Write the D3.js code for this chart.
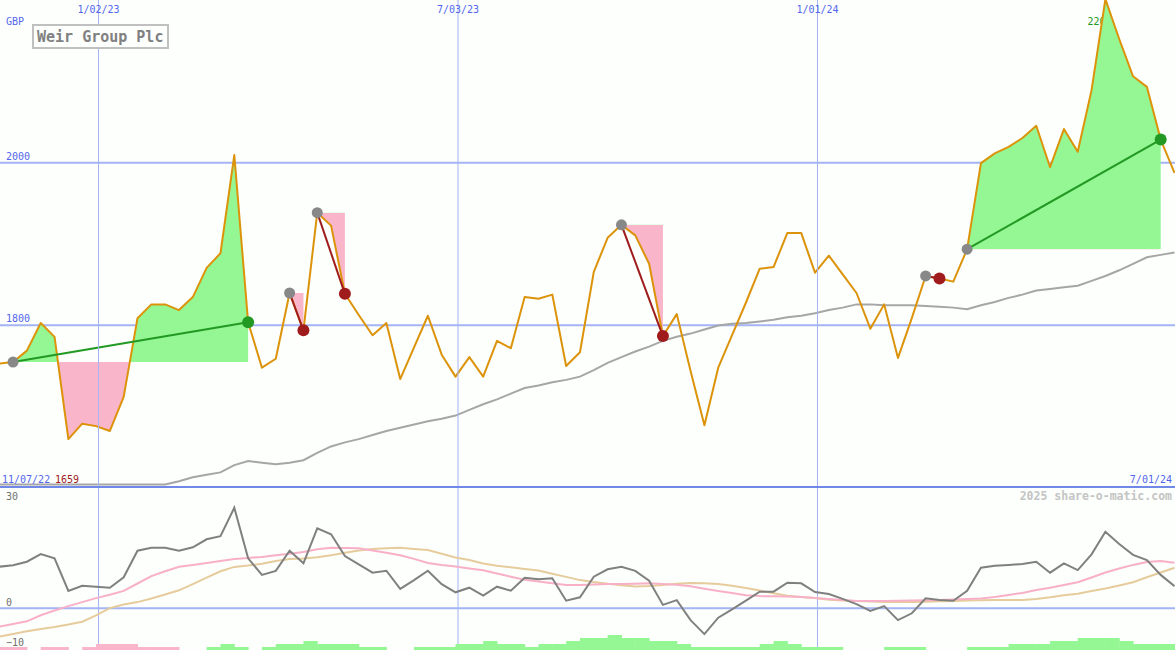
<!DOCTYPE html>
<html><head><meta charset="utf-8">
<script src="https://cdn.jsdelivr.net/npm/d3@7"></script>
<style>body{margin:0;background:#fcfffc}svg{display:block}</style>
</head><body><svg id="c" width="1175" height="650"></svg>
<script>
// ---- data (weekly, starting Sunday 6 Nov 2022) ----
const startDay = "2022-11-06";
const title = "Weir Group Plc";
const currency = "GBP";
const tickDates = ["2023-01-02", "2023-07-03", "2024-01-01"];
const tickLabels = ["1/02/23", "7/03/23", "1/01/24"];
const priceTicks = [1800, 2000];
const oscTicks = [30, 0, -10];
const startLabel = "11/07/22";
const endLabel = "7/01/24";
const minLabel = "1659";
const maxLabel = "2201";
const watermark = "2025 share-o-matic.com";

const price = [1749,1752,1754,1768,1802,1785,1659,1678,
  1675,1669,1711,1808,1825,1825,1818,1834,
  1870,1888,2009,1803,1747,1758,1839,1793,
  1938,1922,1838,1812,1787,1802,1733,1772,
  1811,1763,1736,1760,1736,1780,1771,1834,
  1832,1837,1749,1766,1865,1907,1923,1910,
  1875,1786,1813,1743,1676,1747,1787,1827,
  1869,1871,1913,1913,1864,1885,1862,1839,
  1795,1825,1759,1808,1860,1857,1853,1893,
  1999,2011,2019,2030,2045,1994,2041,2013,
  2089,2201,2152,2106,2093,2028,1987];

const movingAvg = [1603,1603,1603,1603,1603,1603,1603,1603,
  1603,1603,1603,1603,1603,1603,1607,1612,
  1615,1618,1627,1632,1630,1628,1630,1633,
  1642,1650,1655,1659,1664,1669,1673,1677,
  1681,1684,1688,1695,1702,1708,1715,1722,
  1725,1729,1732,1736,1744,1753,1760,1767,
  1773,1780,1785,1789,1794,1799,1801,1802,
  1804,1806,1809,1811,1814,1818,1821,1825,
  1825,1824,1824,1824,1823,1822,1821,1819,
  1824,1828,1833,1837,1842,1844,1846,1848,
  1854,1860,1867,1875,1883,1886,1889];

const oscillator = [10.0,10.25,10.6,11.5,13.4,12.35,4.2,5.5,
  5.25,5.0,7.6,14.25,15.0,15.0,14.25,15.1,
  17.1,17.9,25.0,12.35,8.2,9.2,14.25,11.1,
  19.85,18.35,12.9,10.85,8.75,9.25,4.7,6.9,
  9.25,5.9,3.85,5.0,3.0,5.25,4.25,7.5,
  7.1,7.35,1.75,2.6,7.75,9.6,10.25,9.2,
  6.75,0.7,1.9,-3.1,-6.6,-2.5,-0.4,1.75,
  4.0,4.0,6.25,6.1,3.9,3.4,2.2,0.9,
  -0.8,0.4,-3.1,-1.4,2.35,1.9,1.75,4.25,
  10.0,10.5,10.7,10.9,11.5,8.75,11.1,9.4,
  13.35,19.0,15.9,13.2,11.9,8.2,5.4];

const oscFast = [-5.1,-4.75,-4.1,-3.4,-1.9,-0.7,0.4,1.4,
  2.4,3.25,4.2,6.05,7.9,9.1,10.25,10.7,
  11.2,11.7,12.2,12.45,12.7,13.1,13.5,13.9,
  14.6,15.0,14.95,14.85,14.3,13.75,13.1,12.2,
  11.2,10.7,10.3,9.8,9.35,8.55,7.75,7.0,
  6.55,6.1,5.7,5.7,5.8,5.9,5.95,6.0,
  6.1,5.9,5.75,5.35,4.75,4.2,3.65,3.1,
  2.9,2.85,2.8,2.7,2.4,2.2,1.9,1.7,
  1.7,1.7,1.75,1.8,1.85,1.9,2.05,2.2,
  2.3,2.7,3.2,3.7,4.4,5.0,5.7,6.35,
  7.55,8.8,9.8,10.7,11.4,11.7,11.25];

const oscSlow = [-7.8,-7.25,-6.6,-5.9,-5.3,-4.8,-4.2,-3.5,
  -1.9,-0.1,0.8,1.4,2.3,3.3,4.35,5.9,
  7.5,9.1,10.2,10.55,11.0,11.7,12.2,12.3,
  12.6,13.1,13.75,14.3,14.7,14.85,15.0,14.7,
  14.4,13.5,12.55,11.9,11.05,10.5,10.1,9.7,
  9.3,8.5,7.7,6.9,6.4,6.0,5.6,5.3,
  5.4,5.7,6.0,6.15,6.1,5.9,5.5,4.9,
  4.3,3.6,3.0,2.7,2.4,2.0,1.8,1.7,
  1.55,1.45,1.4,1.4,1.5,1.6,1.7,1.8,
  1.85,1.9,1.9,1.9,2.2,2.6,3.1,3.5,
  4.2,4.8,5.55,6.35,7.6,8.8,10.0];

const signalBars = [-1,-1,-1,0,-1,-1,0,-1,
  -2,-2,-2,-1,-1,-1,0,0,
  1,2,1,0,1,2,2,3,
  2,2,2,1,1,0,0,1,
  1,1,2,2,3,2,2,1,
  2,2,3,4,4,5,4,4,
  3,3,2,1,1,1,1,1,
  2,3,2,1,1,1,0,0,
  0,1,1,1,0,0,0,1,
  1,1,2,2,2,3,3,4,
  4,4,3,2,2,2,2];

// trades: index of entry week and exit week in the arrays above
const tradeEntry = [2, 22, 24, 46, 68, 71];
const tradeExit  = [19, 23, 26, 49, 69, 85];

// ---- drawing ----
const W = 1175, H = 650;
const svg = d3.select("#c");
const MONO = "'DejaVu Sans Mono', monospace";
const BLUE = "#5566ee", GRID = "#a4b4f4";

const day0 = new Date(startDay + "T00:00:00Z");
const dates = price.map((_, i) => d3.utcDay.offset(day0, 7 * i));

const x = d3.scaleUtc().domain([new Date(tickDates[0]), new Date(tickDates[2])]).range([98, 817]);
const y = d3.scaleLinear().domain([1600, 2200]).range([487, 0]);
const yo = d3.scaleLinear().domain([-10, 30]).range([647.7, 487.7]);
const yb = d3.scaleLinear().domain([0, 5]).range([650, 635]);

svg.append("rect").attr("width", W).attr("height", H).attr("fill", "#fcfffc");

const defs = svg.append("defs");
defs.append("clipPath").attr("id", "mainClip").append("rect").attr("width", W).attr("height", 487);
defs.append("clipPath").attr("id", "lowClip").append("rect").attr("y", 488).attr("width", W).attr("height", H - 488);

// horizontal price grid + labels
svg.append("g")
  .call(d3.axisLeft(y).tickValues(priceTicks).tickFormat(d3.format("d")).tickSizeInner(-W).tickSizeOuter(0).tickPadding(-6))
  .call(g => g.select(".domain").remove())
  .call(g => g.selectAll("line").attr("stroke", GRID).attr("stroke-width", 2))
  .call(g => g.selectAll("text").attr("fill", BLUE).attr("text-anchor", "start").attr("dy", -3)
      .style("font-family", MONO).style("font-size", "10px"));

// lower panel grid/labels
svg.append("g")
  .call(d3.axisLeft(yo).tickValues(oscTicks).tickFormat(d3.format("d")).tickSizeInner(-W).tickSizeOuter(0).tickPadding(-6))
  .call(g => g.select(".domain").remove())
  .call(g => g.selectAll("line").attr("stroke", GRID).attr("stroke-width", 2).attr("stroke-opacity", d => d === 0 ? 1 : 0))
  .call(g => g.selectAll("text").attr("fill", "#707070").attr("text-anchor", "start").attr("dy", d => d === 30 ? 12 : -2.7)
      .style("font-family", MONO).style("font-size", "10px"));

// max label (drawn beneath fills)
const maxIdx = d3.maxIndex(price);
const main = svg.append("g").attr("clip-path", "url(#mainClip)");
main.append("text").attr("x", x(dates[maxIdx]) - 18).attr("y", y(price[maxIdx]) + 26)
  .attr("fill", "#229922").style("font-family", MONO).style("font-size", "10px").text(maxLabel);

// trade fills
tradeEntry.forEach((e, t) => {
  const xIdx = d3.range(e, tradeExit[t] + 1);
  const lvl = y(price[e]);
  const area = d3.area().x(i => x(dates[i])).y0(lvl).y1(i => y(price[i]));
  const cid = "tc" + t;
  const cp = defs.append("clipPath").attr("id", cid + "a");
  cp.append("rect").attr("x", 0).attr("y", 0).attr("width", W).attr("height", lvl);
  const cp2 = defs.append("clipPath").attr("id", cid + "b");
  cp2.append("rect").attr("x", 0).attr("y", lvl).attr("width", W).attr("height", H);
  main.append("path").attr("d", area(xIdx)).attr("fill", "#94f794").attr("clip-path", `url(#${cid}a)`);
  main.append("path").attr("d", area(xIdx)).attr("fill", "#f9b5c9").attr("clip-path", `url(#${cid}b)`);
});

// vertical date grid + labels
svg.append("g")
  .call(d3.axisTop(x).tickValues(tickDates.map(d => new Date(d))).tickFormat((d, i) => tickLabels[i])
      .tickSizeInner(-H).tickSizeOuter(0).tickPadding(-13))
  .call(g => g.select(".domain").remove())
  .call(g => g.selectAll("line").attr("stroke", GRID).attr("stroke-width", 1))
  .call(g => g.selectAll("text").attr("fill", BLUE).style("font-family", MONO).style("font-size", "10px"));

// moving average + price
main.append("path").attr("d", d3.line().x((d, i) => x(dates[i])).y(d => y(d))(movingAvg)).attr("fill", "none")
  .attr("stroke", "#a6a6a6").attr("stroke-width", 2);
main.append("path").attr("d", d3.line().x((d, i) => x(dates[i])).y(d => y(d))(price)).attr("fill", "none")
  .attr("stroke", "#dc930a").attr("stroke-width", 2).attr("stroke-linejoin", "round");

// trade lines and markers
tradeEntry.forEach((e, t) => {
  const xi = tradeExit[t];
  const win = price[xi] > price[e];
  const col = win ? "#229922" : "#a01c1c";
  main.append("line").attr("x1", x(dates[e])).attr("y1", y(price[e]))
    .attr("x2", x(dates[xi])).attr("y2", y(price[xi])).attr("stroke", col).attr("stroke-width", 2);
  main.append("circle").attr("cx", x(dates[e])).attr("cy", y(price[e])).attr("r", 5.5).attr("fill", "#888888");
  main.append("circle").attr("cx", x(dates[xi])).attr("cy", y(price[xi])).attr("r", 6).attr("fill", col);
});

// lower panel
const low = svg.append("g").attr("clip-path", "url(#lowClip)");
low.selectAll("rect.bar").data(signalBars).join("rect").attr("class", "bar")
  .attr("x", (d, i) => x(dates[i]))
  .attr("width", (d, i) => x(d3.utcDay.offset(dates[i], 7)) - x(dates[i]) + 0.5)
  .attr("y", d => yb(Math.abs(d)))
  .attr("height", d => yb(0) - yb(Math.abs(d)))
  .attr("fill", d => d < 0 ? "#f9b5c9" : "#94f794");
const lo = d3.line().x((d, i) => x(dates[i])).y(d => yo(d));
low.append("path").attr("d", lo(oscSlow)).attr("fill", "none").attr("stroke", "#e6cc9c").attr("stroke-width", 2);
low.append("path").attr("d", lo(oscFast)).attr("fill", "none").attr("stroke", "#f8b0c8").attr("stroke-width", 2);
low.append("path").attr("d", lo(oscillator)).attr("fill", "none").attr("stroke", "#808080").attr("stroke-width", 2);

// separator
svg.append("line").attr("x1", 0).attr("x2", W).attr("y1", 487).attr("y2", 487)
  .attr("stroke", "#7088e8").attr("stroke-width", 2);

// texts
const txt = (tx, ty, s, col, anchor, size, weight) => svg.append("text").attr("x", tx).attr("y", ty)
  .attr("fill", col).attr("text-anchor", anchor || "start").style("font-family", MONO)
  .style("font-size", (size || 10) + "px").style("font-weight", weight || "normal").text(s);
txt(6, 25, currency, BLUE);
txt(2, 483, startLabel, BLUE);
txt(55, 483, minLabel, "#a01c1c");
txt(1172, 483, endLabel, BLUE, "end");
txt(1172, 500, watermark, "#c4c4c4", "end", 11.5, "bold");
svg.append("rect").attr("x", 33).attr("y", 25).attr("width", 135).attr("height", 23)
  .attr("fill", "#fcfffc").attr("stroke", "#c0c0c0").attr("stroke-width", 2);
txt(37, 42, title, "#808080", "start", 15, "bold");
</script></body></html>
